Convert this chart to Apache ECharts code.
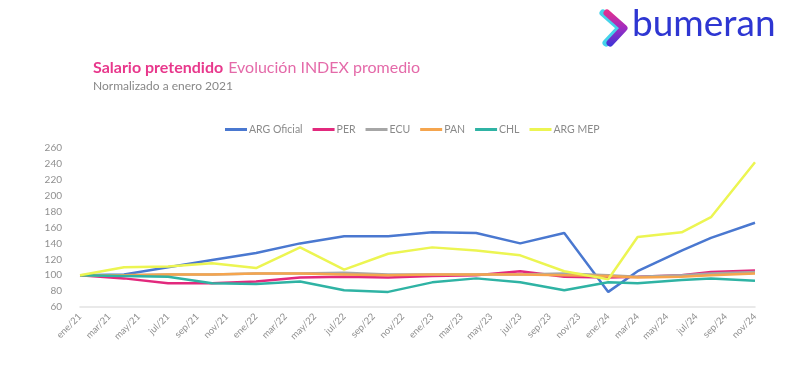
<!DOCTYPE html>
<html>
<head>
<meta charset="utf-8">
<script src="https://cdn.jsdelivr.net/npm/echarts@6/dist/echarts.min.js"></script>
<style>html,body{margin:0;padding:0;background:#fff}#c{width:800px;height:372px}</style>
</head>
<body>
<div id="c"></div>
<script>
// Monthly axis categories (labels shown every other month)
const months = ['ene/21','feb/21','mar/21','abr/21','may/21','jun/21','jul/21','ago/21','sep/21','oct/21','nov/21','dic/21',
'ene/22','feb/22','mar/22','abr/22','may/22','jun/22','jul/22','ago/22','sep/22','oct/22','nov/22','dic/22',
'ene/23','feb/23','mar/23','abr/23','may/23','jun/23','jul/23','ago/23','sep/23','oct/23','nov/23','dic/23',
'ene/24','feb/24','mar/24','abr/24','may/24','jun/24','jul/24','ago/24','sep/24','oct/24','nov/24'];
// Months where the series have observed values
const obsMonths = ['ene/21','abr/21','jul/21','oct/21','ene/22','abr/22','jul/22','oct/22','ene/23','abr/23','jul/23','oct/23','ene/24','mar/24','jun/24','ago/24','nov/24'];
const argOficial = [100,101,110,119,128,140,149,149,154,153,140,153,79,105,131,147,166];
const per        = [100,96,90,90,92,97,98,97,99,100,105,98,97,98,100,104,106];
const ecu        = [100,100,101,101,102,102,103,101,101,101,101,102,100,98,100,102,104];
const pan        = [100,100,101,101,102,102,101,100,101,101,101,100,99,97,98,100,102];
const chl        = [100,99,98,90,89,92,81,79,91,96,91,81,91,90,94,96,93];
const argMep     = [100,110,111,115,109,135,107,127,135,131,125,105,95,148,154,173,242];
const yTicks = {min:60, max:260, interval:20};

function toMonthly(vals){
  const out = months.map(()=>null);
  obsMonths.forEach((m,i)=>{ out[months.indexOf(m)] = vals[i]; });
  return out;
}
const seriesDef = [
  ['ARG Oficial', argOficial, '#4a78d0'],
  ['PER', per, '#e2297d'],
  ['ECU', ecu, '#a6a6a6'],
  ['PAN', pan, '#f5a54e'],
  ['CHL', chl, '#2fb3a4'],
  ['ARG MEP', argMep, '#ecf552']
];
const chart = echarts.init(document.getElementById('c'));
chart.setOption({
  backgroundColor:'#fff',
  animation:false,
  title:{
    left:88, top:54,
    text:'{a|Salario pretendido} {b|Evolución INDEX promedio}',
    subtext:'Normalizado a enero 2021',
    itemGap:3,
    textStyle:{rich:{
      a:{fontFamily:'Lato',fontWeight:'bold',fontSize:16,color:'#e8388c'},
      b:{fontFamily:'Lato',fontWeight:'normal',fontSize:16,color:'#e46aa9'}
    }},
    subtextStyle:{fontFamily:'Lato',fontSize:12,color:'#888'}
  },
  legend:{
    top:119, left:220,
    itemWidth:22, itemHeight:3, itemGap:10, icon:'rect',
    textStyle:{fontFamily:'Lato',fontSize:10.5,color:'#8a8a8a', padding:[0,0,0,-3]},
    data:seriesDef.map(s=>s[0])
  },
  grid:{left:80, right:45, top:148, bottom:65},
  xAxis:{
    type:'category', data:months, boundaryGap:false,
    axisLine:{lineStyle:{color:'#e2e2e2',width:1.5}},
    axisTick:{show:false},
    axisLabel:{interval:1, rotate:45, color:'#909090', fontFamily:'Lato', fontSize:9.5, margin:8}
  },
  yAxis:{
    type:'value', min:yTicks.min, max:yTicks.max, interval:yTicks.interval,
    splitLine:{show:false}, axisLine:{show:false}, axisTick:{show:false},
    axisLabel:{color:'#909090', fontFamily:'Lato', fontSize:10, margin:18}
  },
  graphic:[
    {type:'polyline', shape:{points:[[603,13],[620,28],[606,43]]},
     style:{stroke:'#45d3ea', lineWidth:7, lineCap:'round', lineJoin:'round', fill:null}},
    {type:'polyline', shape:{points:[[607,13],[624,28],[610,43]]},
     style:{stroke:new echarts.graphic.LinearGradient(0,0,0,1,[{offset:0,color:'#e8308a'},{offset:0.5,color:'#a02cc0'},{offset:1,color:'#3a34d8'}]),
            lineWidth:7, lineCap:'round', lineJoin:'round', fill:null}},
    {type:'text', left:632, top:6,
     style:{text:'bumeran', fontFamily:'Lato', fontSize:37, fontWeight:'normal', fill:'#2e36d2'}}
  ],
  series:seriesDef.map(s=>({
    name:s[0], type:'line', data:toMonthly(s[1]), connectNulls:true,
    symbol:'none', lineStyle:{color:s[2], width:2.5}, itemStyle:{color:s[2]}
  }))
});
</script>
</body>
</html>
